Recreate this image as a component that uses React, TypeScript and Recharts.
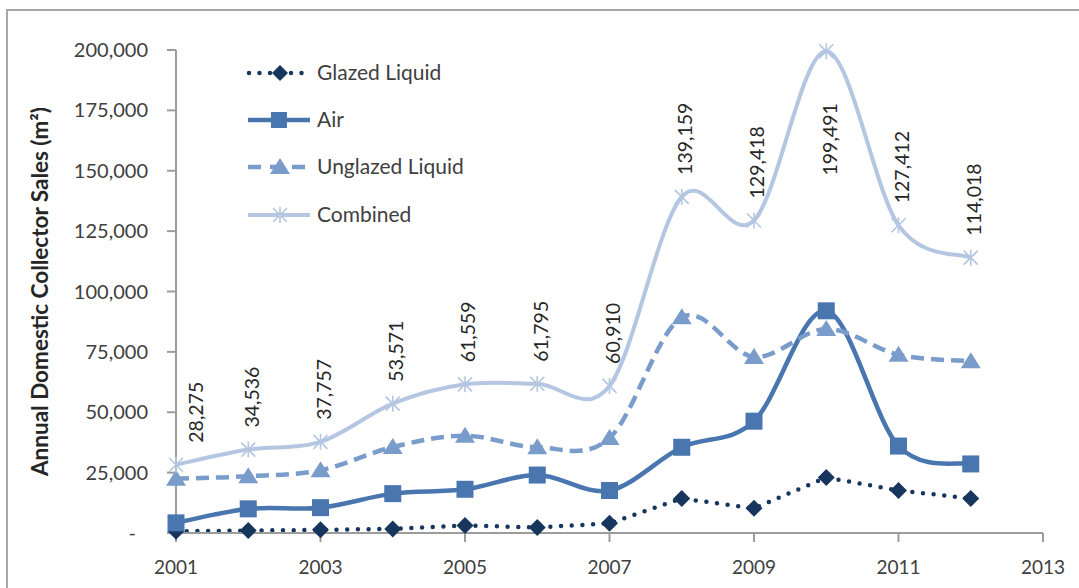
import { LineChart, Line, XAxis, YAxis, Legend, LabelList } from 'recharts';

// ── Data ────────────────────────────────────────────────────

const YEARS = [2001, 2002, 2003, 2004, 2005, 2006, 2007, 2008, 2009, 2010, 2011, 2012];
const GLAZED = [700, 1000, 1300, 1700, 3100, 2300, 4000, 14300, 10200, 23000, 17600, 14300];
const AIR = [4200, 10000, 10500, 16300, 18100, 24000, 17600, 35500, 46300, 92000, 36000, 28600];
const UNGLAZED = [22500, 23500, 26000, 35600, 40300, 35500, 39300, 89300, 72900, 84500, 73800, 71100];
const COMBINED = [28275, 34536, 37757, 53571, 61559, 61795, 60910, 139159, 129418, 199491, 127412, 114018];

const X_TICKS = [2001, 2003, 2005, 2007, 2009, 2011, 2013];
const Y_TICKS = [0, 25000, 50000, 75000, 100000, 125000, 150000, 175000, 200000];

const rows = YEARS.map((year, i) => ({
  year,
  glazed: GLAZED[i],
  air: AIR[i],
  unglazed: UNGLAZED[i],
  combined: COMBINED[i],
}));

// ── Styling ─────────────────────────────────────────────────

const FONT = 'Lato, "Liberation Sans", sans-serif';
const TEXT = '#404040';
const AXIS = '#9c9c9c';
const C_GLAZED = '#17365d';
const C_AIR = '#4a76b0';
const C_UNGLAZED = '#7a9ccb';
const C_COMBINED = '#b4c6e2';

// Excel-style smoothing (Catmull-Rom through every point)
const smoothCurve = (context: any) => {
  let pts: number[][] = [];
  return {
    areaStart() {},
    areaEnd() {},
    lineStart() { pts = []; },
    lineEnd() {
      if (!pts.length) return;
      context.moveTo(pts[0][0], pts[0][1]);
      for (let i = 0; i < pts.length - 1; i++) {
        const p0 = pts[Math.max(0, i - 1)];
        const p1 = pts[i];
        const p2 = pts[i + 1];
        const p3 = pts[Math.min(pts.length - 1, i + 2)];
        context.bezierCurveTo(
          p1[0] + (p2[0] - p0[0]) / 6, p1[1] + (p2[1] - p0[1]) / 6,
          p2[0] - (p3[0] - p1[0]) / 6, p2[1] - (p3[1] - p1[1]) / 6,
          p2[0], p2[1],
        );
      }
    },
    point(x: number, y: number) { pts.push([+x, +y]); },
  };
};

// ── Markers ─────────────────────────────────────────────────

const diamond = (cx: number, cy: number, r: number) =>
  `M${cx},${cy - r}L${cx + r},${cy}L${cx},${cy + r}L${cx - r},${cy}Z`;
const triangle = (cx: number, cy: number) =>
  `M${cx},${cy - 9}L${cx + 10},${cy + 7}L${cx - 10},${cy + 7}Z`;
const star = (cx: number, cy: number) =>
  `M${cx - 7},${cy - 7}L${cx + 7},${cy + 7}M${cx + 7},${cy - 7}L${cx - 7},${cy + 7}M${cx},${cy - 8}L${cx},${cy + 8}`;

const GlazedDot = (p: any) => <path key={`g${p.index}`} d={diamond(p.cx, p.cy, 8.5)} fill={C_GLAZED} />;
const AirDot = (p: any) => <rect key={`a${p.index}`} x={p.cx - 8.5} y={p.cy - 8.5} width={17} height={17} fill={C_AIR} />;
const UnglazedDot = (p: any) => <path key={`u${p.index}`} d={triangle(p.cx, p.cy)} fill={C_UNGLAZED} />;
const CombinedDot = (p: any) => (
  <path key={`c${p.index}`} d={star(p.cx, p.cy)} stroke={C_COMBINED} strokeWidth={1.6} fill="none" />
);

// ── Axis ticks & labels ─────────────────────────────────────

const YTick = ({ x, y, payload }: any) => {
  const v = payload.value as number;
  return (
    <text x={v === 0 ? x - 12 : x} y={y} dy="0.35em" textAnchor="end" fill={TEXT} fontSize={20} fontFamily={FONT}>
      {v === 0 ? '-' : v.toLocaleString('en-US')}
    </text>
  );
};

const CombinedLabel = (props: any) => {
  const { x, y, value, index } = props;
  const below = value > 180000;
  const lx = x + (index === 0 ? 20 : 3);
  const ly = below ? y + 52 : y - 22;
  return (
    <text
      key={`cl${index}`}
      x={lx}
      y={ly}
      transform={`rotate(-90 ${lx} ${ly})`}
      textAnchor={below ? 'end' : 'start'}
      dominantBaseline="central"
      fill="#262626"
      fontSize={19.5}
      fontFamily={FONT}
    >
      {Number(value).toLocaleString('en-US')}
    </text>
  );
};

// ── Legend ──────────────────────────────────────────────────

const LEGEND_ROWS = [
  { name: 'Glazed Liquid', y: 18 },
  { name: 'Air', y: 65 },
  { name: 'Unglazed Liquid', y: 112 },
  { name: 'Combined', y: 160 },
];

const LegendContent = () => (
  <svg width={250} height={180} style={{ display: 'block' }}>
    {/* Glazed */}
    <line x1={9} x2={70} y1={LEGEND_ROWS[0].y} y2={LEGEND_ROWS[0].y} stroke={C_GLAZED} strokeWidth={4.5}
      strokeDasharray="0 10.5" strokeLinecap="round" />
    <path d={diamond(40, LEGEND_ROWS[0].y, 8)} fill={C_GLAZED} />
    {/* Air */}
    <line x1={8} x2={70} y1={LEGEND_ROWS[1].y} y2={LEGEND_ROWS[1].y} stroke={C_AIR} strokeWidth={4.5} />
    <rect x={31} y={LEGEND_ROWS[1].y - 8} width={16} height={16} fill={C_AIR} />
    {/* Unglazed */}
    <line x1={8} x2={70} y1={LEGEND_ROWS[2].y} y2={LEGEND_ROWS[2].y} stroke={C_UNGLAZED} strokeWidth={4.5}
      strokeDasharray="13 9" />
    <path d={triangle(40, LEGEND_ROWS[2].y)} fill={C_UNGLAZED} />
    {/* Combined */}
    <line x1={8} x2={70} y1={LEGEND_ROWS[3].y} y2={LEGEND_ROWS[3].y} stroke={C_COMBINED} strokeWidth={4} />
    <path d={star(40, LEGEND_ROWS[3].y)} stroke={C_COMBINED} strokeWidth={1.6} fill="none" />
    {LEGEND_ROWS.map((r) => (
      <text key={r.name} x={77} y={r.y} dy="0.35em" fill={TEXT} fontSize={21} fontFamily={FONT}>
        {r.name}
      </text>
    ))}
  </svg>
);

// ── Chart ───────────────────────────────────────────────────

export default function App() {
  return (
    <div style={{ position: 'fixed', left: 0, top: 0, width: 1079, height: 588, background: '#fff', overflow: 'hidden' }}>
      <div
        style={{
          position: 'absolute', left: 6, top: 9, width: 1200, height: 700,
          borderTop: '2px solid #a8a8a8', borderLeft: '2px solid #a8a8a8',
        }}
      />
      <LineChart
        width={1079}
        height={588}
        data={rows}
        margin={{ top: 50, right: 36, bottom: 0, left: 0 }}
        style={{ position: 'absolute', left: 0, top: 0 }}
      >
        <XAxis
          dataKey="year"
          type="number"
          domain={[2001, 2013]}
          ticks={X_TICKS}
          height={55}
          tickSize={9}
          tickMargin={19}
          axisLine={{ stroke: AXIS, strokeWidth: 2 }}
          tickLine={{ stroke: AXIS, strokeWidth: 2 }}
          tick={{ fill: TEXT, fontSize: 19, fontFamily: FONT }}
        />
        <YAxis
          type="number"
          domain={[0, 200000]}
          ticks={Y_TICKS}
          width={176}
          tickSize={9}
          tickMargin={19}
          axisLine={{ stroke: AXIS, strokeWidth: 2 }}
          tickLine={{ stroke: AXIS, strokeWidth: 2 }}
          tick={<YTick />}
          label={{
            value: 'Annual Domestic Collector Sales (m²)',
            angle: -90,
            position: 'insideLeft',
            offset: 40,
            style: { textAnchor: 'middle', fill: '#262626', fontSize: 22.5, fontWeight: 'bold', fontFamily: FONT },
          }}
        />
        <Legend
          layout="vertical"
          verticalAlign="middle"
          align="center"
          content={<LegendContent />}
          wrapperStyle={{ left: 240, top: 55, width: 250 }}
        />
        <Line
          dataKey="glazed"
          name="Glazed Liquid"
          type="linear"
          stroke={C_GLAZED}
          strokeWidth={4.5}
          strokeDasharray="0 10.7"
          strokeLinecap="round"
          dot={GlazedDot}
          activeDot={false}
          isAnimationActive={false}
        />
        <Line
          dataKey="air"
          name="Air"
          type={smoothCurve as any}
          stroke={C_AIR}
          strokeWidth={4.5}
          dot={AirDot}
          activeDot={false}
          isAnimationActive={false}
        />
        <Line
          dataKey="unglazed"
          name="Unglazed Liquid"
          type={smoothCurve as any}
          stroke={C_UNGLAZED}
          strokeWidth={4.5}
          strokeDasharray="13 7"
          dot={UnglazedDot}
          activeDot={false}
          isAnimationActive={false}
        />
        <Line
          dataKey="combined"
          name="Combined"
          type={smoothCurve as any}
          stroke={C_COMBINED}
          strokeWidth={4}
          dot={CombinedDot}
          activeDot={false}
          isAnimationActive={false}
        >
          <LabelList dataKey="combined" content={<CombinedLabel />} />
        </Line>
      </LineChart>
    </div>
  );
}
